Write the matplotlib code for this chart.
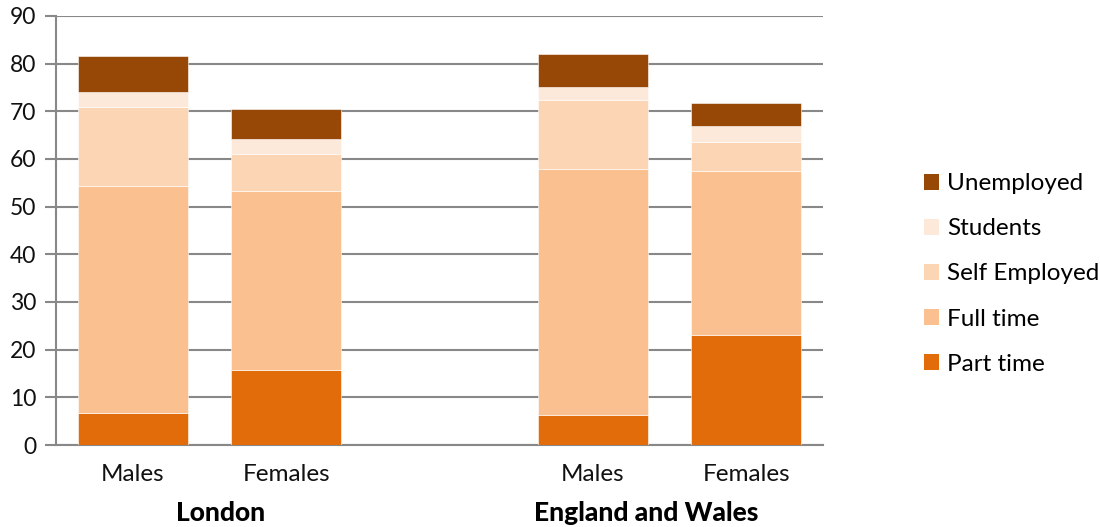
import matplotlib
matplotlib.use("Agg")
import matplotlib.pyplot as plt
from matplotlib.patches import Patch
import numpy as np

plt.rcParams['font.family'] = ['Lato', 'DejaVu Sans']

# Categories (an empty slot separates the two regions)
categories = ["Males", "Females", "", "Males", "Females"]
groups = ["London", "England and Wales"]

series_names = ["Part time", "Full time", "Self Employed", "Students", "Unemployed"]
part_time     = [6.7, 15.7, np.nan, 6.2, 23.1]
full_time     = [47.7, 37.6, np.nan, 51.7, 34.3]
self_employed = [16.5, 7.8, np.nan, 14.5, 6.1]
students      = [3.2, 3.2, np.nan, 2.7, 3.4]
unemployed    = [7.5, 6.1, np.nan, 6.9, 4.8]

colors = ["#E36C0A", "#FAC090", "#FCD5B5", "#FDE9D9", "#974806"]
series = [part_time, full_time, self_employed, students, unemployed]

fig = plt.figure(figsize=(11, 5.27), dpi=100)
ax = fig.add_axes([56 / 1100, 1 - 445 / 527, (823 - 56) / 1100, (445 - 16) / 527])

x = np.arange(len(categories))
bottom = np.zeros(len(categories))
for vals, col in zip(series, colors):
    v = np.nan_to_num(np.array(vals, dtype=float))
    mask = v > 0
    ax.bar(x[mask], v[mask], bottom=bottom[mask], width=0.717, color=col,
           edgecolor="white", linewidth=0.4, zorder=3)
    bottom += v

ax.set_xlim(-0.5, 4.5)
ax.set_ylim(0, 90)
ax.set_yticks(np.arange(0, 91, 10))
ax.yaxis.grid(True, color="#888888", linewidth=1.5, zorder=0)
ax.set_axisbelow(True)

for s in ["top", "right"]:
    ax.spines[s].set_visible(False)
ax.spines["left"].set_color("#888888")
ax.spines["left"].set_linewidth(1.5)
ax.spines["bottom"].set_color("#888888")
ax.spines["bottom"].set_linewidth(1.5)

ax.tick_params(axis="y", length=8, width=1.5, color="#888888", labelsize=16.5,
               pad=6, labelcolor="#111111")
ax.set_xticks([i for i, c in enumerate(categories) if c])
ax.set_xticklabels([c for c in categories if c], fontsize=17.5, color="#111111")
ax.tick_params(axis="x", length=0, pad=14)

# Region labels beneath the category labels
ax.text(0.576, -14.2, groups[0], ha="center", va="center", fontsize=19,
        fontweight="black", transform=ax.transData, clip_on=False)
ax.text(3.346, -14.2, groups[1], ha="center", va="center", fontsize=19,
        fontweight="black", transform=ax.transData, clip_on=False)

handles = [Patch(facecolor=c, edgecolor="none") for c in colors][::-1]
labels = series_names[::-1]
fig.legend(handles, labels, loc="center left", bbox_to_anchor=(924 / 1100, 1 - 274 / 527),
           frameon=False, fontsize=17.5, handlelength=0.6, handleheight=0.6,
           handletextpad=0.35, labelspacing=0.99, borderaxespad=0, borderpad=0)

fig.savefig("out.png", dpi=100)
